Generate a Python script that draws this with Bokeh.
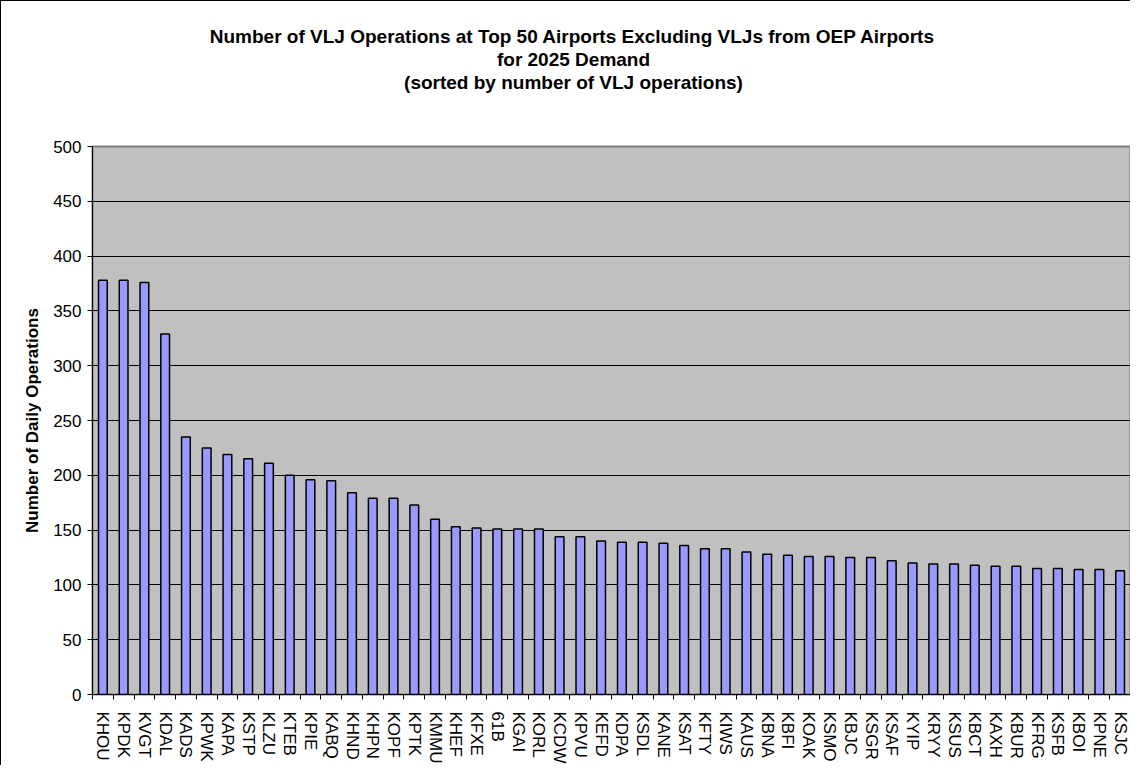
from bokeh.plotting import figure
from bokeh.models import ColumnDataSource, FixedTicker, Title, Range1d
from bokeh.embed import file_html
from bokeh.resources import INLINE

airports = ["KHOU", "KPDK", "KVGT", "KDAL", "KADS", "KPWK", "KAPA", "KSTP", "KLZU", "KTEB",
            "KPIE", "KABQ", "KHND", "KHPN", "KOPF", "KPTK", "KMMU", "KHEF", "KFXE", "61B",
            "KGAI", "KORL", "KCDW", "KPVU", "KEFD", "KDPA", "KSDL", "KANE", "KSAT", "KFTY",
            "KIWS", "KAUS", "KBNA", "KBFI", "KOAK", "KSMO", "KBJC", "KSGR", "KSAF", "KYIP",
            "KRYY", "KSUS", "KBCT", "KAXH", "KBUR", "KFRG", "KSFB", "KBOI", "KPNE", "KSJC"]
operations = [378, 378, 376, 329, 235, 225, 219, 215, 211, 200,
              196, 195, 184, 179, 179, 173, 160, 153, 152, 151,
              151, 151, 144, 144, 140, 139, 139, 138, 136, 133,
              133, 130, 128, 127, 126, 126, 125, 125, 122, 120,
              119, 119, 118, 117, 117, 115, 115, 114, 114, 113]
y_ticks = [0, 50, 100, 150, 200, 250, 300, 350, 400, 450, 500]
title_lines = ["Number of VLJ Operations at Top 50 Airports Excluding VLJs from OEP Airports",
               "for 2025 Demand",
               "(sorted by number of VLJ operations)"]
y_label = "Number of Daily Operations"

idx = list(range(len(airports)))
source = ColumnDataSource(data=dict(x=idx, ops=operations, name=airports))

W, H = 1130, 765
p = figure(width=W, height=H, output_backend="svg", toolbar_location=None,
           x_range=Range1d(-0.5, len(airports) - 0.5), y_range=Range1d(0, 500),
           min_border_left=91, min_border_right=1, min_border_top=145, min_border_bottom=71)
p.background_fill_color = "#C0C0C0"
p.border_fill_color = "white"
p.outline_line_color = "#808080"
p.outline_line_width = 2
p.styles = {"border-left": "1px solid black", "border-top": "1px solid black"}

p.vbar(x="x", top="ops", width=0.42, bottom=0, source=source,
       fill_color="#9999FF", line_color="black", line_width=1.5)

# y axis
p.yaxis.ticker = FixedTicker(ticks=y_ticks)
p.yaxis.axis_label = y_label
p.yaxis.axis_label_text_font = "Liberation Sans"
p.yaxis.axis_label_text_font_style = "bold"
p.yaxis.axis_label_text_font_size = "17px"
p.yaxis.axis_label_text_color = "black"
p.yaxis.axis_label_standoff = 8
p.yaxis.major_label_text_font = "Liberation Sans"
p.yaxis.major_label_text_font_size = "17px"
p.yaxis.major_label_text_color = "black"
p.yaxis.major_tick_in = 0
p.yaxis.major_tick_out = 5
p.yaxis.minor_tick_line_color = None
p.yaxis.axis_line_color = "black"
p.yaxis.major_tick_line_color = "black"
p.yaxis.major_label_standoff = 6

# x axis: labels at centers, ticks at boundaries
p.xaxis.ticker = FixedTicker(ticks=idx, minor_ticks=[i - 0.5 for i in range(len(airports) + 1)])
p.xaxis.major_label_overrides = {i: n for i, n in enumerate(airports)}
p.xaxis.major_label_orientation = "vertical"
p.xaxis.major_label_text_font = "Liberation Sans"
p.xaxis.major_label_text_font_size = "17px"
p.xaxis.major_label_text_color = "black"
p.xaxis.major_tick_line_color = None
p.xaxis.minor_tick_in = 0
p.xaxis.minor_tick_out = 5
p.xaxis.minor_tick_line_color = "black"
p.xaxis.axis_line_color = "black"
p.xaxis.major_label_standoff = 11

p.xgrid.grid_line_color = None
p.ygrid.grid_line_color = "black"
p.ygrid.grid_line_width = 1

# title: three lines stacked above the frame (first added sits nearest the frame)
title_font_px = 19
title_em = [38.286, 8.058, 17.836]          # Arial-bold advance widths of each line, in em
title_center = 572 - 91                      # desired centre, relative to frame left
p.add_layout(Title(text=" ", standoff=31, text_font_size="19px"), "above")  # spacer
for line, em in reversed(list(zip(title_lines, title_em))):
    off = title_center - em * title_font_px / 2
    p.add_layout(Title(text=line, align="left", offset=off, standoff=0,
                       text_font="Liberation Sans", text_font_style="bold",
                       text_font_size=f"{title_font_px}px", text_color="black"), "above")

open("out.html", "w").write(file_html(p, INLINE))
